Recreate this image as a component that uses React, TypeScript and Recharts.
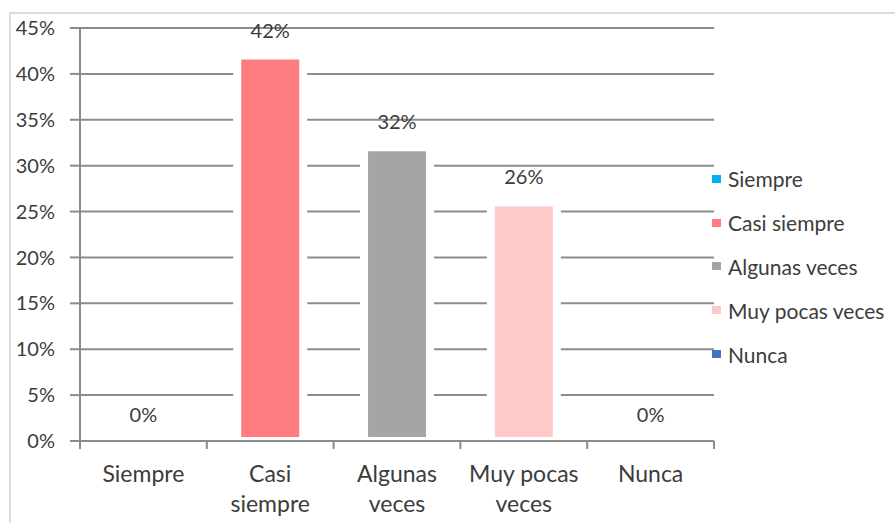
import React from 'react';
import { BarChart, Bar, XAxis, YAxis, CartesianGrid, Cell, LabelList, Legend } from 'recharts';

// Survey answer categories and the share of responses for each one
const categories = ['Siempre', 'Casi siempre', 'Algunas veces', 'Muy pocas veces', 'Nunca'];
const percentages = [0, 42, 32, 26, 0];
const barColors = ['#00B0F0', '#FF7C80', '#A5A5A5', '#FFC9C9', '#4472C4'];
const yTicks = [0, 5, 10, 15, 20, 25, 30, 35, 40, 45];

const data = categories.map((name, i) => ({ name, value: percentages[i] }));

const FONT = 'Lato, "Liberation Sans", sans-serif';
const TEXT = '#3c3c3c';
const LINE = '#8c8c8c';

// Category label (last word wrapped to a second line) plus tick marks on the band edges
const CategoryTick = (props: any) => {
  const { x, y, payload, index, visibleTicksCount, width } = props;
  const half =
    payload && typeof payload.offset === 'number' && payload.offset > 0
      ? payload.offset
      : width / visibleTicksCount / 2;
  const words = String(payload.value).split(' ');
  const lines = words.length > 1 ? [words.slice(0, -1).join(' '), words[words.length - 1]] : words;
  const isLast = index === visibleTicksCount - 1;
  return (
    <g>
      <line x1={x - half} x2={x - half} y1={y} y2={y + 8} stroke={LINE} strokeWidth={2} />
      {isLast && <line x1={x + half} x2={x + half} y1={y} y2={y + 8} stroke={LINE} strokeWidth={2} />}
      <text x={x} y={y} textAnchor="middle" fill={TEXT} fontSize={23} fontFamily={FONT}>
        {lines.map((l, i) => (
          <tspan key={i} x={x} dy={i === 0 ? 41 : 30}>
            {l}
          </tspan>
        ))}
      </text>
    </g>
  );
};

const LegendList = () => (
  <div style={{ fontFamily: FONT, fontSize: 21, color: TEXT }}>
    {categories.map((c, i) => (
      <div key={c} style={{ display: 'flex', alignItems: 'center', height: 43.8 }}>
        <span style={{ display: 'inline-block', width: 9, height: 8, background: barColors[i], marginRight: 7 }} />
        <span>{c}</span>
      </div>
    ))}
  </div>
);

export default function App() {
  return (
    <div style={{ position: 'absolute', left: 0, top: 0, width: 895, height: 523, overflow: 'hidden', background: '#fff' }}>
      <div
        style={{
          position: 'absolute',
          left: 9,
          top: 12,
          width: 1000,
          height: 1000,
          border: '2px solid #dcdcdc',
          boxSizing: 'border-box',
        }}
      />
      <div style={{ position: 'absolute', left: 0, top: 0 }}>
        <BarChart
          width={895}
          height={523}
          data={data}
          margin={{ top: 28, right: 0, left: 10, bottom: 0 }}
          barCategoryGap="24%"
        >
          <CartesianGrid vertical={false} stroke={LINE} strokeWidth={2} />
          <XAxis
            dataKey="name"
            height={82}
            interval={0}
            tick={<CategoryTick />}
            tickLine={false}
            tickSize={0}
            tickMargin={0}
            axisLine={{ stroke: LINE, strokeWidth: 2 }}
          />
          <YAxis
            width={70}
            domain={[0, 45]}
            ticks={yTicks}
            interval={0}
            tickFormatter={(v: number) => `${v}%`}
            tick={{ fill: TEXT, fontSize: 20, fontFamily: FONT }}
            tickSize={10}
            tickMargin={15}
            tickLine={{ stroke: LINE, strokeWidth: 2 }}
            axisLine={{ stroke: LINE, strokeWidth: 2 }}
          />
          <Legend
            layout="vertical"
            align="right"
            verticalAlign="middle"
            content={<LegendList />}
            wrapperStyle={{ position: 'absolute', left: 712, top: 157, width: 181 }}
          />
          <Bar dataKey="value" isAnimationActive={false} stroke="#ffffff" strokeWidth={8} minPointSize={1}>
            {data.map((d, i) => (
              <Cell key={d.name} fill={barColors[i]} />
            ))}
            <LabelList
              dataKey="value"
              position="top"
              offset={18}
              formatter={(v: any) => `${v}%`}
              fill={TEXT}
              fontSize={20}
              fontFamily={FONT}
            />
          </Bar>
        </BarChart>
      </div>
    </div>
  );
}
